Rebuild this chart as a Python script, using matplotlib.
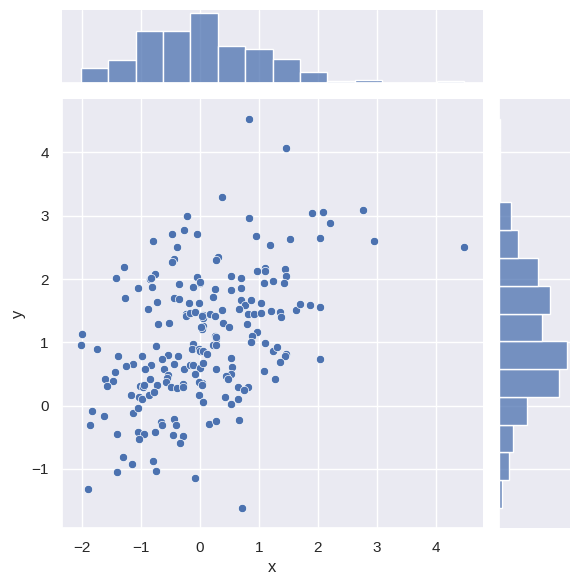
import numpy as np
import seaborn as sns
import matplotlib
matplotlib.use("Agg")
from matplotlib import pyplot as plt

# Points (x, y)
x_vals = [
    -0.21, -0.47, -0.27, -0.05, -0.79, -0.38, 0.84, 1.46, 0.37, 0.84,
    1.90, 2.09, 2.21, 0.95, 1.18, 1.53, 2.04, 2.76, 2.95, 4.47,
    -0.43, -0.47, -1.28, -1.42, -0.76, -0.85, -0.81, -1.05, -0.36, -0.04,
    0.01, -0.12, -1.27, -0.73, -0.44, -0.36, -0.19, -0.02, -0.88, -0.24,
    -0.24, -0.16, -0.09, 0.05, 0.06, 0.18, -0.71, -0.53, 0.05, 0.03,
    -1.99, -2.01, -1.74, -0.75, -0.12, -0.14, -0.02, 0.01, 0.06, 0.12,
    -1.39, -0.98, -0.54, -0.37, -0.64, -1.13, -1.25, -0.83, -0.44, -0.93,
    -0.61, -0.27, -0.17, -0.12, 0.00, 0.05, -1.44, -0.54, -0.55, -0.09,
    -1.61, -1.47, -0.85, -0.58, -1.57, -1.02, -0.96, -0.73, -0.49, -0.38,
    -0.29, 0.03, 0.30, 0.28, 0.52, 0.70, 0.97, 1.11, 1.11, 1.45,
    1.46, 1.09, 1.24, 1.43, 0.26, 0.52, 0.69, 0.23, 0.69, 0.76,
    0.87, 1.03, 0.67, 0.37, 0.81, 0.92, 1.03, 1.21, 1.36, 1.38,
    1.63, 1.70, 1.87, 2.04, 0.25, 0.40, 0.49, 0.79, 0.97, 0.89,
    0.87, 0.25, 0.27, 0.22, 0.28, 1.11, 1.23, 1.31, 1.46, 1.45,
    1.35, 2.04, 0.52, 0.55, 0.27, 1.09, 0.52, 0.45, 0.47, 1.28,
    0.65, 0.82, -0.29, -1.17, -1.03, -0.98, -0.86, -0.78, -0.02, 0.05,
    -1.82, -1.62, -1.13, -1.05, -1.86, -1.40, -1.05, -0.95, -1.03, -0.76,
    -0.66, -0.64, -0.44, -0.41, -0.46, -0.29, -0.34, 0.15, -1.30, -1.15,
    -0.80, -1.40, -0.75, -0.09, -1.89, 0.74, 0.42, 0.52, 0.65, 0.28,
    0.67, 0.72, 0.04, 0.02, 0.27, -0.01, 0.04, -0.95, -0.83, 0.00,
]
y_vals = [
    3.00, 2.71, 2.78, 2.71, 2.60, 2.51, 4.53, 4.07, 3.30, 2.97,
    3.04, 3.06, 2.89, 2.68, 2.53, 2.64, 2.65, 3.09, 2.60, 2.51,
    2.32, 2.27, 2.19, 2.02, 2.08, 2.00, 1.88, 1.86, 1.92, 2.03,
    1.94, 1.88, 1.70, 1.64, 1.70, 1.69, 1.62, 1.62, 1.53, 1.45,
    1.41, 1.46, 1.48, 1.43, 1.39, 1.45, 1.29, 1.31, 1.26, 1.21,
    1.13, 0.96, 0.90, 0.94, 0.98, 0.90, 0.90, 0.86, 0.87, 0.81,
    0.78, 0.78, 0.80, 0.78, 0.74, 0.66, 0.63, 0.64, 0.66, 0.58,
    0.58, 0.58, 0.64, 0.64, 0.60, 0.67, 0.53, 0.48, 0.44, 0.50,
    0.42, 0.39, 0.42, 0.37, 0.31, 0.31, 0.30, 0.33, 0.30, 0.28,
    0.34, 0.36, 2.35, 2.30, 2.05, 2.02, 2.12, 2.18, 2.13, 2.16,
    2.04, 1.94, 1.97, 1.94, 1.84, 1.83, 1.86, 1.72, 1.67, 1.59,
    1.67, 1.62, 1.53, 1.51, 1.45, 1.45, 1.46, 1.50, 1.48, 1.40,
    1.51, 1.61, 1.59, 1.56, 1.42, 1.31, 1.24, 1.29, 1.16, 1.10,
    1.01, 1.10, 1.05, 0.96, 0.96, 0.99, 0.86, 0.93, 0.82, 0.78,
    0.69, 0.74, 0.75, 0.61, 0.58, 0.55, 0.50, 0.47, 0.42, 0.42,
    0.30, 0.30, 0.30, 0.17, 0.14, 0.11, 0.17, 0.21, 0.17, 0.06,
    -0.08, -0.16, -0.12, -0.04, -0.30, -0.45, -0.42, -0.45, -0.53, -0.42,
    -0.26, -0.30, -0.21, -0.30, -0.46, -0.48, -0.59, -0.29, -0.81, -0.92,
    -0.87, -1.05, -1.03, -1.14, -1.32, 0.25, 0.14, 0.03, 0.11, -0.24,
    -0.23, -1.62, 1.41, 1.24, 1.08, 0.38, 0.33, 0.32, 2.02, 1.96,
]

sns.set_theme()
plt.rcParams['font.family'] = ['Liberation Sans', 'DejaVu Sans']

W, H = 580, 584
g = sns.jointplot(x=np.array(x_vals), y=np.array(y_vals), height=6,
                  marginal_kws=dict(bins=14))
g.set_axis_labels("x", "y")
fig = g.figure
fig.set_size_inches(W / 100, H / 100)


def px_box(left, top, right, bottom):  # пиксели -> координаты фигуры
    return [left / W, 1 - bottom / H, (right - left) / W, (bottom - top) / H]


g.ax_joint.set_position(px_box(62, 99.5, 483, 527.5))
g.ax_marg_x.set_position(px_box(62, 10, 483, 83))
g.ax_marg_y.set_position(px_box(498.5, 99.5, 570, 527.5))

fig.savefig("out.png", dpi=100)
